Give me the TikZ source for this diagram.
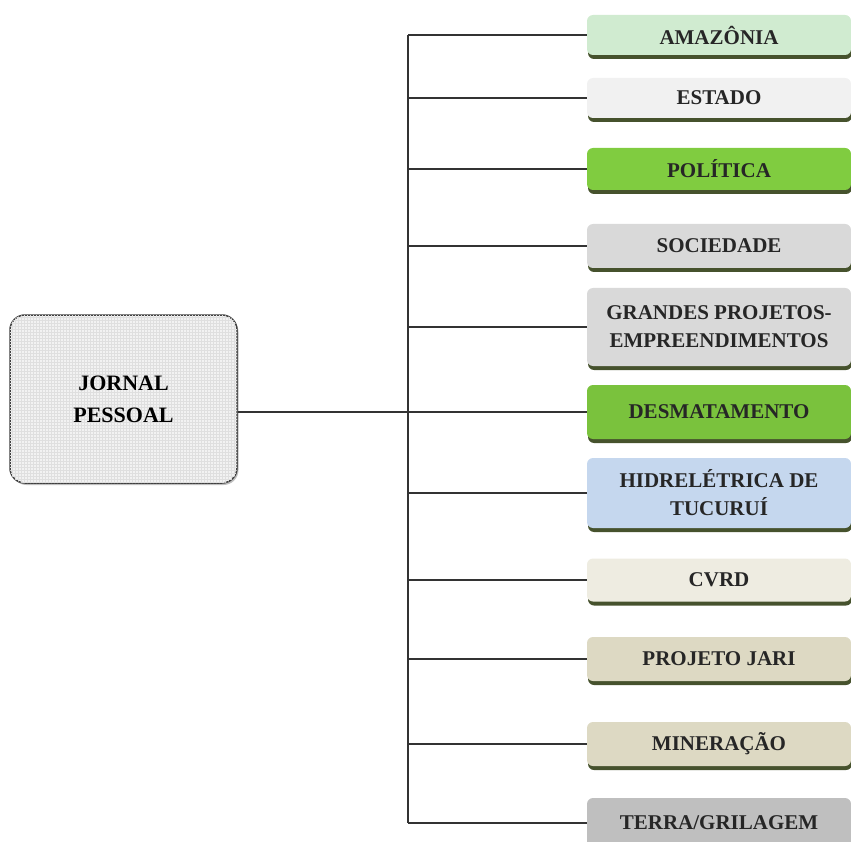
\documentclass[tikz,border=0pt]{standalone}
\usepackage{fontspec}
\setmainfont{Liberation Serif}
\usepackage{xcolor}
\usepackage{tikz}
\usetikzlibrary{shadows, patterns}

\definecolor{amazgreen}{RGB}{208,235,208}
\definecolor{paleGray}{RGB}{241,241,241}
\definecolor{leafGreen}{RGB}{128,204,64}
\definecolor{midGray}{RGB}{217,217,217}
\definecolor{skyBlue}{RGB}{197,215,238}
\definecolor{cream}{RGB}{238,236,225}
\definecolor{sand}{RGB}{221,217,195}
\definecolor{darkGray}{RGB}{191,191,191}
\definecolor{oliveShade}{RGB}{70,82,45}

\begin{document}
\begin{tikzpicture}[
      x=1pt, y=-1pt,
      font=\fontsize{21}{28}\selectfont\bfseries,
      topic/.style={rounded corners=6pt, align=center, minimum width=264pt, text=black!85,
        drop shadow={shadow xshift=1pt, shadow yshift=-4pt, opacity=1, fill=oliveShade}},
      mainbox/.style={draw=black!75, line width=1.5pt, rounded corners=15pt, align=center,
        minimum width=227pt, minimum height=168pt, fill=gray!10,
        postaction={pattern=grid, pattern color=gray!25},
        drop shadow={shadow xshift=1.5pt, shadow yshift=-2pt, opacity=0.5, fill=gray},
        font=\fontsize{22}{32}\selectfont\bfseries},
      link/.style={line width=1.4pt, black!80}
    ]
      \useasboundingbox (0,0) rectangle (851,842);
      \clip (0,0) rectangle (851,842);

      \node[mainbox] (jornal) at (123.5,399) {JORNAL\\PESSOAL};

      % caixas dos temas
      \node[topic, fill=amazgreen, minimum height=40pt] (amaz) at (719,35) {AMAZÔNIA};
      \node[topic, fill=paleGray, minimum height=40pt] (estado) at (719,98) {ESTADO};
      \node[topic, fill=leafGreen, minimum height=42pt] (polit) at (719,169) {POLÍTICA};
      \node[topic, fill=midGray, minimum height=44pt] (soc) at (719,246) {SOCIEDADE};
      \node[topic, fill=midGray, minimum height=78pt] (grandes) at (719,327) {GRANDES PROJETOS-\\EMPREENDIMENTOS};
      \node[topic, fill=leafGreen!95!black, minimum height=54pt] (desm) at (719,412) {DESMATAMENTO};
      \node[topic, fill=skyBlue, minimum height=70pt] (hidro) at (719,493) {HIDRELÉTRICA DE\\TUCURUÍ};
      \node[topic, fill=cream, minimum height=43pt] (cvrd) at (719,580) {CVRD};
      \node[topic, fill=sand, minimum height=44pt] (jari) at (719,659) {PROJETO JARI};
      \node[topic, fill=sand, minimum height=44pt] (miner) at (719,744) {MINERAÇÃO};
      \node[topic, fill=darkGray, minimum height=50pt] (terra) at (719,823) {TERRA/GRILAGEM};

      % tronco e ramos
      \coordinate (trunk) at (408,0);
      \draw[link] (trunk |- amaz.west) -- (trunk |- terra.west);
      \foreach \t in {amaz, estado, polit, soc, grandes, hidro, cvrd, jari, miner, terra}
        \draw[link] (trunk |- \t.west) -- (\t.west);
      \draw[link] (jornal.east |- desm.west) -- (desm.west);
    \end{tikzpicture}
\end{document}
